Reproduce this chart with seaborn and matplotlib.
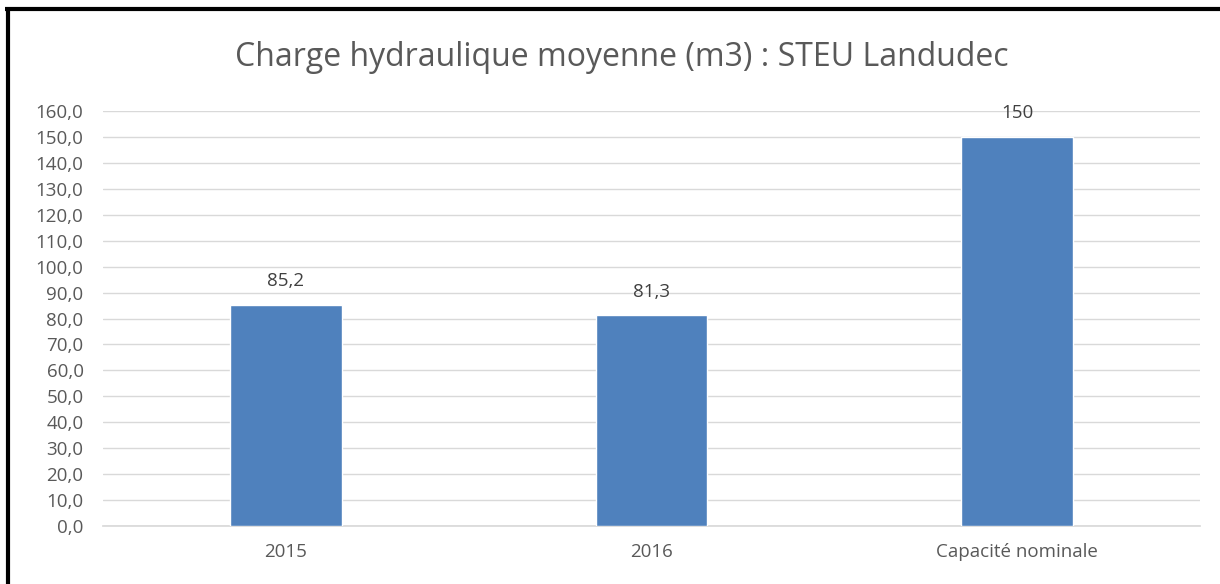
import matplotlib
matplotlib.use('Agg')
import matplotlib.pyplot as plt
from matplotlib.lines import Line2D
from matplotlib.ticker import FuncFormatter, MultipleLocator
import seaborn as sns
import pandas as pd

# données
categories = ['2015', '2016', 'Capacité nominale']
charge_m3 = [85.2, 81.3, 150]
value_labels = ['85,2', '81,3', '150']

sns.set_theme(style='white')
plt.rcParams['font.family'] = ['Open Sans', 'DejaVu Sans']

df = pd.DataFrame({'categorie': categories, 'charge': charge_m3})

fig = plt.figure(figsize=(12.2, 5.84), dpi=100)
ax = fig.add_axes([0.0844, 0.0993, 0.8992, 0.7106])

sns.barplot(data=df, x='categorie', y='charge', color='#4F81BD',
            width=0.306, saturation=1, ax=ax, zorder=3)

ax.set_ylim(0, 160)
ax.yaxis.set_major_locator(MultipleLocator(10))
ax.yaxis.set_major_formatter(FuncFormatter(lambda v, p: f'{v:.1f}'.replace('.', ',')))
ax.grid(axis='y', color='#D9D9D9', linewidth=1, zorder=0)
ax.set_xlabel('')
ax.set_ylabel('')
for s in ['top', 'right', 'left']:
    ax.spines[s].set_visible(False)
ax.spines['bottom'].set_color('#D9D9D9')
ax.tick_params(axis='both', length=0, labelsize=13.5, colors='#595959')
ax.tick_params(axis='x', pad=12)
ax.tick_params(axis='y', pad=14)

for patch, lab in zip(ax.patches, value_labels):
    ax.annotate(lab, (patch.get_x() + patch.get_width() / 2, patch.get_height()),
                xytext=(0, 17), textcoords='offset points', ha='center', va='center',
                fontsize=13.5, color='#404040')

fig.text(0.51, 0.902, 'Charge hydraulique moyenne (m3) : STEU Landudec',
         ha='center', va='center', fontsize=23, color='#595959')

# cadre noir (haut et gauche)
fig.add_artist(Line2D([5 / 1220, 1], [1 - 9 / 584, 1 - 9 / 584], color='black',
                      linewidth=3, solid_capstyle='butt'))
fig.add_artist(Line2D([7.5 / 1220, 7.5 / 1220], [0, 1 - 7 / 584], color='black',
                      linewidth=3, solid_capstyle='butt'))

fig.savefig('out.png', dpi=100)
